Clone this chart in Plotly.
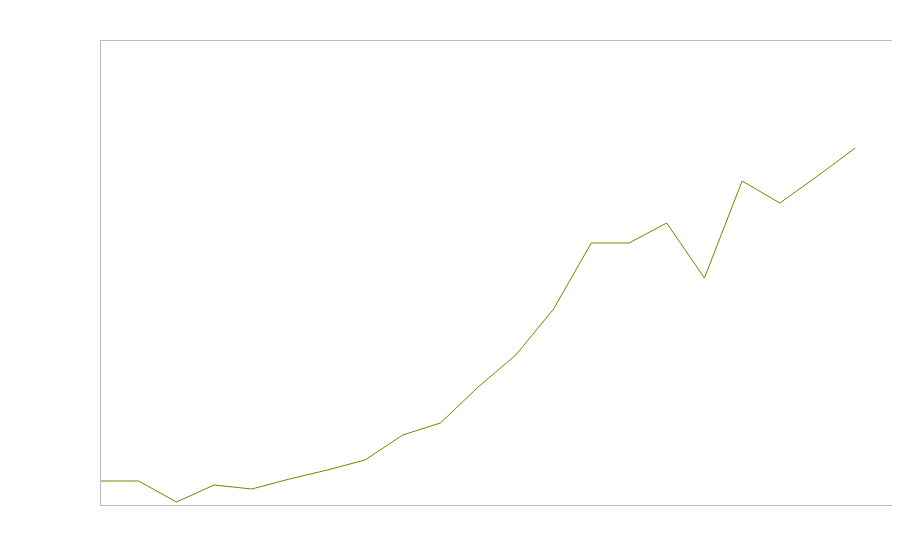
import plotly.graph_objects as go

# x positions (index of each observation)
steps = list(range(21))
# series values
values = [24, 24, 3, 20, 16, 26, 35, 45, 70, 82, 118, 150, 196, 262, 262, 282, 227, 324, 302, 329, 357]

fig = go.Figure()
fig.add_trace(go.Scatter(
    x=steps,
    y=values,
    mode="lines",
    line=dict(color="#808000", width=1),
    showlegend=False,
    hoverinfo="skip",
))

axis_style = dict(
    showgrid=False,
    zeroline=False,
    showticklabels=False,
    ticks="",
    showline=True,
    mirror=True,
    linecolor="#bbbbbb",
    linewidth=1,
)

# page offsets the figure by a few pixels, so margins are shifted to match
fig.update_layout(
    width=900,
    height=560,
    margin=dict(l=93, r=15, t=33, b=63),
    paper_bgcolor="white",
    plot_bgcolor="white",
    xaxis=dict(range=[0, 21], **axis_style),
    yaxis=dict(range=[0, 464], **axis_style),
)

fig.write_html("out.html")
